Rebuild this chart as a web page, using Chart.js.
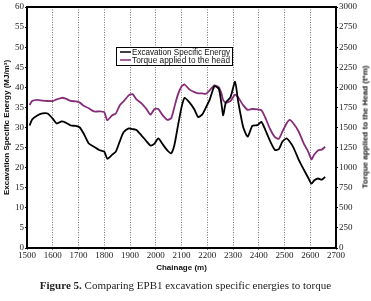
<!DOCTYPE html>
<html>
<head>
<meta charset="utf-8">
<script src="https://cdn.jsdelivr.net/npm/chart.js@4"></script>
<style>
  body { margin: 0; background: #fff; }
  #wrap { position: relative; width: 371px; height: 301px; }
  #caption {
    position: absolute; left: 0; top: 279px; width: 371px; text-align: center;
    font-family: "Liberation Serif", "DejaVu Serif", serif; font-size: 11px; color: #222;
  }
  #tituloDer {
    position: absolute; left: 365px; top: 127px; white-space: nowrap;
    transform: translate(-50%, -50%) rotate(-90deg);
    font-family: "Liberation Sans", Arial, sans-serif; font-size: 8px; font-weight: bold; color: #111;
  }
</style>
</head>
<body>
<div id="wrap">
  <canvas id="grafica" width="371" height="301"></canvas>
  <div id="tituloDer">Torque applied to the Head (t*m)</div>
  <div id="caption"><b>Figure 5.</b> Comparing EPB1 excavation specific energies to torque</div>
</div>
<script>
//Datos
const chainage = [1510, 1520, 1540, 1560, 1580, 1600, 1615, 1635, 1650, 1670, 1690, 1705, 1720, 1740, 1760, 1780, 1800, 1812, 1830, 1845,
  1860, 1875, 1895, 1910, 1925, 1945, 1965, 1980, 1995, 2010, 2025, 2045, 2060, 2072, 2085, 2100, 2112, 2130, 2150, 2165,
  2180, 2195, 2210, 2228, 2245, 2255, 2262, 2272, 2290, 2308, 2320, 2340, 2357, 2375, 2395, 2410, 2425, 2445, 2463, 2478,
  2492, 2508, 2520, 2535, 2555, 2575, 2592, 2605, 2615, 2630, 2645, 2658];

// MJ/m3
const energia = [30.5, 32.0, 33.0, 33.5, 33.5, 32.2, 31.0, 31.5, 31.2, 30.5, 30.4, 30.0, 28.5, 26.0, 25.2, 24.4, 24.0, 22.2, 23.2, 24.0,
  26.5, 28.8, 29.8, 29.6, 29.4, 28.0, 26.5, 25.5, 26.0, 27.3, 26.0, 24.3, 23.6, 25.5, 30.0, 35.0, 37.4, 36.3, 34.5, 32.6,
  33.2, 35.0, 37.0, 40.3, 39.6, 36.0, 33.0, 36.2, 37.5, 41.4, 36.5, 30.0, 27.7, 30.4, 30.6, 31.4, 29.5, 26.5, 24.4, 24.6,
  26.5, 27.3, 26.5, 25.0, 22.0, 19.5, 17.5, 16.0, 16.8, 17.3, 17.0, 17.7];

// t*m
const torque = [1780, 1830, 1845, 1835, 1830, 1830, 1850, 1870, 1860, 1830, 1825, 1810, 1770, 1740, 1700, 1700, 1690, 1590, 1650, 1675,
  1775, 1825, 1900, 1915, 1850, 1800, 1725, 1660, 1730, 1730, 1660, 1595, 1615, 1750, 1900, 2010, 2035, 1975, 1940, 1925,
  1925, 1920, 1965, 2025, 2000, 1925, 1840, 1810, 1830, 1910, 1875, 1775, 1720, 1730, 1725, 1715, 1625, 1475, 1380, 1360,
  1450, 1550, 1595, 1550, 1450, 1300, 1200, 1105, 1160, 1215, 1225, 1260];

const serie1 = 'Excavation Specific Energy';
const serie2 = 'Torque applied to the head';

const fuenteNum = { family: '"Liberation Serif", "DejaVu Serif", serif', size: 9 };
const fuenteTit = { family: '"Liberation Sans", Arial, sans-serif', size: 8, weight: 'bold' };
const sinComas = v => String(v);

//Marco negro del area
const marco = {
  id: 'marco',
  afterDatasetsDraw(chart) {
    const { ctx, chartArea: a } = chart;
    ctx.save();
    ctx.strokeStyle = '#000';
    ctx.lineWidth = 2;
    ctx.strokeRect(a.left, a.top, a.right - a.left, a.bottom - a.top);
    ctx.restore();
  }
};

//Leyenda dentro del grafico
const leyenda = {
  id: 'leyenda',
  afterDraw(chart) {
    const ctx = chart.ctx;
    const x = 116, y = 47, w = 116, h = 18;
    ctx.save();
    ctx.fillStyle = '#fff';
    ctx.fillRect(x, y, w, h);
    ctx.strokeStyle = '#000';
    ctx.lineWidth = 1;
    ctx.strokeRect(x + 0.5, y + 0.5, w, h);
    ctx.font = '8.5px "Liberation Sans", Arial, sans-serif';
    ctx.textBaseline = 'middle';
    chart.data.datasets.forEach((ds, i) => {
      const yy = y + 5 + i * 8;
      ctx.strokeStyle = ds.borderColor;
      ctx.lineWidth = 1.5;
      ctx.beginPath();
      ctx.moveTo(x + 4, yy);
      ctx.lineTo(x + 15, yy);
      ctx.stroke();
      ctx.fillStyle = '#111';
      ctx.fillText(ds.label, x + 16, yy + 0.5, w - 18);
    });
    ctx.restore();
  }
};

const grafica = new Chart(document.getElementById('grafica'), {
  type: 'line',
  data: {
    datasets: [{
      label: serie1,
      data: chainage.map((c, i) => ({ x: c, y: energia[i] })),
      borderColor: '#000',
      borderWidth: 1.8,
      pointRadius: 0,
      tension: 0.2,
      yAxisID: 'y'
    }, {
      label: serie2,
      data: chainage.map((c, i) => ({ x: c, y: torque[i] })),
      borderColor: '#862d7a',
      borderWidth: 1.8,
      pointRadius: 0,
      tension: 0.2,
      yAxisID: 'y2'
    }]
  },
  options: {
    responsive: false,
    animation: false,
    layout: { padding: { top: 7, bottom: 25, left: 0, right: 0 } },
    plugins: { legend: { display: false }, tooltip: { enabled: false } },
    scales: {
      x: {
        type: 'linear', min: 1500, max: 2700,
        afterFit: s => { s.height = 28; },
        ticks: { stepSize: 100, font: fuenteNum, color: '#222', padding: 0, maxRotation: 0, callback: sinComas },
        grid: { color: '#777', lineWidth: 1, tickLength: 2 },
        border: { display: false, dash: [1, 1.5] },
        title: { display: true, text: 'Chainage (m)', font: fuenteTit, color: '#111', padding: { top: 0, bottom: 3 } }
      },
      y: {
        position: 'left', min: 0, max: 60,
        afterFit: s => { s.width = 27; },
        ticks: { stepSize: 5, font: fuenteNum, color: '#222', padding: 1, callback: sinComas },
        grid: { drawOnChartArea: false, color: '#000', tickLength: 2 },
        border: { display: false },
        title: { display: true, text: 'Excavation Specific Energy (MJ/m³)', font: fuenteTit, color: '#111', padding: { top: 2, bottom: 0 } }
      },
      y2: {
        position: 'right', min: 0, max: 3000,
        afterFit: s => { s.width = 35; },
        ticks: { stepSize: 250, font: fuenteNum, color: '#222', padding: 1, callback: sinComas },
        grid: { drawOnChartArea: false, color: '#000', tickLength: 2 },
        border: { display: false },
        title: { display: false }
      }
    }
  },
  plugins: [marco, leyenda]
});
</script>
</body>
</html>
